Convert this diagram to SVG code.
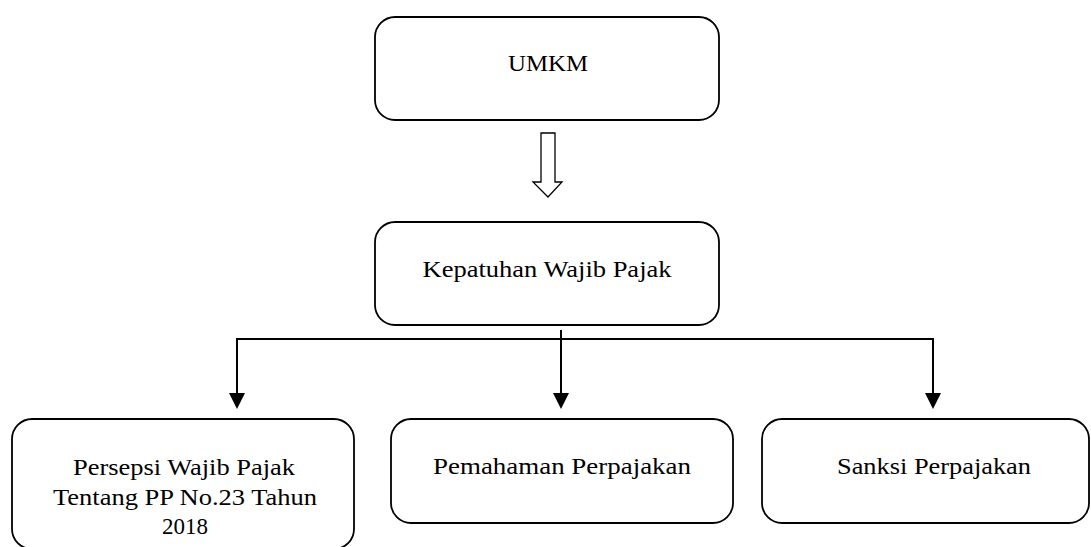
<svg xmlns="http://www.w3.org/2000/svg" width="1091" height="547" viewBox="0 0 1091 547">
<style>
.box{fill:#fff;stroke:#000;stroke-width:1.8}
.t{font-family:"Liberation Serif","Times New Roman",serif;font-size:23px;fill:#000;text-anchor:middle}
.c{fill:none;stroke:#000;stroke-width:2}
.ah{fill:#000}
</style>
<rect width="1091" height="547" fill="#fff"/>
<g id="node-umkm">
<rect class="box" x="375" y="17" width="344" height="103" rx="20"/>
<text class="t" x="548" y="71" textLength="80" lengthAdjust="spacingAndGlyphs">UMKM</text>
</g>
<g id="node-kepatuhan">
<rect class="box" x="375" y="222" width="344" height="103" rx="20"/>
<text class="t" x="547" y="277" textLength="249" lengthAdjust="spacingAndGlyphs">Kepatuhan Wajib Pajak</text>
</g>
<g id="node-persepsi">
<rect class="box" x="12" y="419" width="342" height="130" rx="20"/>
<text class="t" x="184" y="475" textLength="222" lengthAdjust="spacingAndGlyphs">Persepsi Wajib Pajak</text>
<text class="t" x="185" y="505" textLength="264" lengthAdjust="spacingAndGlyphs">Tentang PP No.23 Tahun</text>
<text class="t" x="185" y="534" textLength="46" lengthAdjust="spacingAndGlyphs">2018</text>
</g>
<g id="node-pemahaman">
<rect class="box" x="391" y="419" width="342" height="104" rx="20"/>
<text class="t" x="562" y="474" textLength="258" lengthAdjust="spacingAndGlyphs">Pemahaman Perpajakan</text>
</g>
<g id="node-sanksi">
<rect class="box" x="762" y="419" width="327" height="104" rx="20"/>
<text class="t" x="934" y="474" textLength="194" lengthAdjust="spacingAndGlyphs">Sanksi Perpajakan</text>
</g>
<g id="connectors">
<polygon points="541,133 555,133 555,182 562,182 548,197 533,182 541,182" fill="#fff" stroke="#000" stroke-width="1.3"/>
<path class="c" d="M237,394 V339 H933 V394"/>
<path class="c" d="M561,330 V394"/>
<polygon class="ah" points="229,393 245,393 237,409"/>
<polygon class="ah" points="553,393 569,393 561,409"/>
<polygon class="ah" points="925,393 941,393 933,409"/>
</g>
</svg>
